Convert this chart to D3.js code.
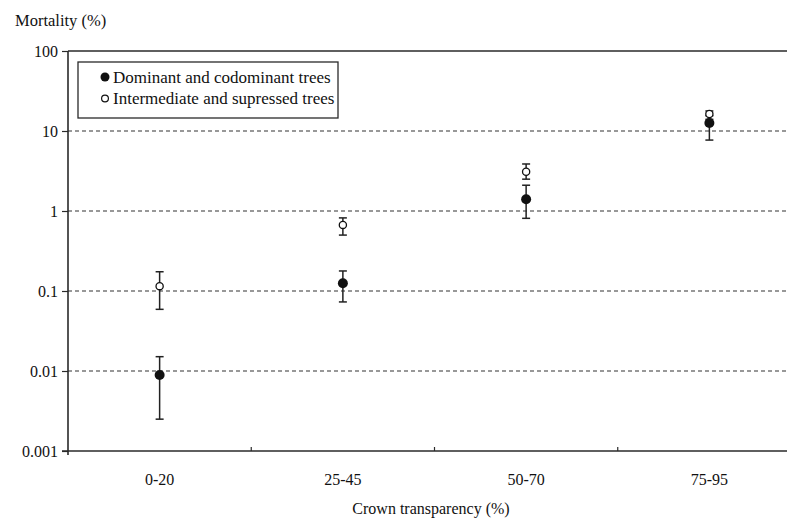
<!DOCTYPE html>
<html lang="en">
<head>
    <meta charset="UTF-8">
    <title>Mortality by crown transparency</title>
    <style>
        body, html {
            margin: 0;
            overflow: hidden;
            background: #fff;
        }
        text {
            font-family: "Liberation Serif", "Times New Roman", serif;
            fill: #111;
        }
    </style>
</head>
<body>

<script src="https://d3js.org/d3.v7.min.js"></script>

<script>
    // Crown transparency classes
    const categories = ["0-20", "25-45", "50-70", "75-95"];

    // Dominant and codominant trees (mortality %, with error bar ends)
    const dominant = [0.0089, 0.125, 1.40, 12.6];
    const dominantLow = [0.0025, 0.073, 0.81, 7.7];
    const dominantHigh = [0.0151, 0.178, 2.1, 15.5];

    // Intermediate and supressed trees
    const supressed = [0.115, 0.67, 3.1, 16.3];
    const supressedLow = [0.059, 0.5, 2.5, 14.0];
    const supressedHigh = [0.174, 0.82, 3.87, 17.8];

    const yTicks = [0.001, 0.01, 0.1, 1, 10, 100];
    const yTickLabels = ["0.001", "0.01", "0.1", "1", "10", "100"];
    const gridValues = [0.01, 0.1, 1, 10];

    const width = 787,
        height = 519;

    const svg = d3.create("svg")
        .attr("width", width)
        .attr("height", height);

    // plot area
    const plotLeft = 68, plotRight = 801, plotTop = 51, plotBottom = 451;

    const x = d3.scaleBand()
        .domain(categories)
        .range([plotLeft, plotRight]);

    const y = d3.scaleLog()
        .domain([0.001, 100])
        .range([plotBottom, plotTop]);

    const axisColor = "#2a2a2a";

    // dashed grid lines
    svg.selectAll(".grid")
        .data(gridValues)
        .enter().append("line")
        .attr("x1", plotLeft)
        .attr("x2", plotRight)
        .attr("y1", d => y(d))
        .attr("y2", d => y(d))
        .attr("stroke", "#333")
        .attr("stroke-width", 1.1)
        .attr("stroke-dasharray", "4,3");

    // top frame line
    svg.append("line")
        .attr("x1", plotLeft).attr("x2", plotRight)
        .attr("y1", y(100)).attr("y2", y(100))
        .attr("stroke", axisColor)
        .attr("stroke-width", 1.5);

    // y axis
    const yAxis = d3.axisLeft(y)
        .tickValues(yTicks)
        .tickFormat((d, i) => yTickLabels[i])
        .tickSize(6)
        .tickPadding(4);

    const gy = svg.append("g")
        .attr("transform", `translate(${plotLeft},0)`)
        .call(yAxis);
    gy.select(".domain")
        .attr("d", `M0,${plotTop}V${plotBottom + 4}`)
        .attr("stroke", axisColor)
        .attr("stroke-width", 1.6);
    gy.selectAll(".tick line").attr("stroke", axisColor).attr("stroke-width", 1.2);
    gy.selectAll(".tick text")
        .attr("font-family", "Liberation Serif, Times New Roman, serif")
        .attr("font-size", 16)
        .attr("fill", "#111");

    // x axis: line with inward ticks at class boundaries
    svg.append("line")
        .attr("x1", plotLeft - 6).attr("x2", plotRight)
        .attr("y1", plotBottom).attr("y2", plotBottom)
        .attr("stroke", axisColor)
        .attr("stroke-width", 1.6);

    svg.selectAll(".xtick")
        .data(categories.slice(1))
        .enter().append("line")
        .attr("x1", d => x(d))
        .attr("x2", d => x(d))
        .attr("y1", plotBottom)
        .attr("y2", plotBottom - 4)
        .attr("stroke", axisColor)
        .attr("stroke-width", 1.2);

    svg.selectAll(".xlabel")
        .data(categories)
        .enter().append("text")
        .attr("x", d => x(d) + x.bandwidth() / 2)
        .attr("y", 485)
        .attr("text-anchor", "middle")
        .attr("font-size", 16)
        .text(d => d);

    // axis titles
    svg.append("text")
        .attr("x", 431)
        .attr("y", 514)
        .attr("text-anchor", "middle")
        .attr("font-size", 16)
        .text("Crown transparency (%)");

    svg.append("text")
        .attr("x", 15)
        .attr("y", 26)
        .attr("font-size", 16.5)
        .text("Mortality (%)");

    // error bars
    const cx = i => x(categories[i]) + x.bandwidth() / 2;
    const capHalf = 4;

    function errorBars(lows, highs) {
        const g = svg.append("g")
            .attr("stroke", "#222")
            .attr("stroke-width", 1.5);
        categories.forEach((c, i) => {
            g.append("line")
                .attr("x1", cx(i)).attr("x2", cx(i))
                .attr("y1", y(lows[i])).attr("y2", y(highs[i]));
            [lows[i], highs[i]].forEach(v => {
                g.append("line")
                    .attr("x1", cx(i) - capHalf).attr("x2", cx(i) + capHalf)
                    .attr("y1", y(v)).attr("y2", y(v));
            });
        });
    }

    errorBars(supressedLow, supressedHigh);
    errorBars(dominantLow, dominantHigh);

    // points
    svg.selectAll(".open-pt")
        .data(supressed)
        .enter().append("circle")
        .attr("cx", (d, i) => cx(i))
        .attr("cy", d => y(d))
        .attr("r", 3.6)
        .attr("fill", "#fff")
        .attr("stroke", "#111")
        .attr("stroke-width", 1.3);

    svg.selectAll(".filled-pt")
        .data(dominant)
        .enter().append("circle")
        .attr("cx", (d, i) => cx(i))
        .attr("cy", d => y(d))
        .attr("r", 5)
        .attr("fill", "#111");

    // legend
    const legend = svg.append("g");
    legend.append("rect")
        .attr("x", 78).attr("y", 62)
        .attr("width", 260).attr("height", 56)
        .attr("fill", "#fff")
        .attr("stroke", axisColor)
        .attr("stroke-width", 1.3);

    legend.append("circle")
        .attr("cx", 105).attr("cy", 77)
        .attr("r", 4.5)
        .attr("fill", "#111");
    legend.append("text")
        .attr("x", 113).attr("y", 83)
        .attr("font-size", 17)
        .text("Dominant and codominant trees");

    legend.append("circle")
        .attr("cx", 105).attr("cy", 98.5)
        .attr("r", 3.4)
        .attr("fill", "#fff")
        .attr("stroke", "#111")
        .attr("stroke-width", 1.2);
    legend.append("text")
        .attr("x", 113).attr("y", 104)
        .attr("font-size", 17)
        .text("Intermediate and supressed trees");

    document.body.appendChild(svg.node());
</script>

</body>
</html>
